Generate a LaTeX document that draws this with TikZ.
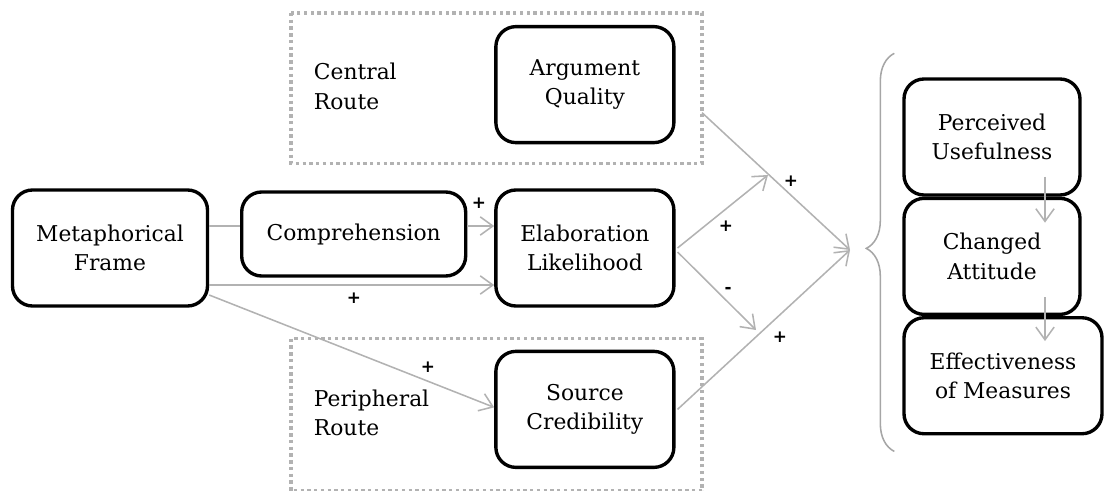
\documentclass[tikz,border=0pt]{standalone}
\usepackage{fontspec}
\setmainfont{DejaVu Serif}
\newfontfamily\signfont{DejaVu Sans}
\usepackage{tikz}
\usetikzlibrary{arrows.meta}
\usetikzlibrary{positioning}
\usetikzlibrary{calc}
\usetikzlibrary{decorations.pathreplacing}
\tikzstyle{block} = [draw, rectangle, line width = 2.4pt, rounded corners = 0.5cm, minimum height = 2.9cm, minimum width = 4.45cm, align = center, font = \fontsize{15.5}{21}\selectfont]
\tikzstyle{label} = [align = left, anchor = west, font = \fontsize{15.5}{21}\selectfont]
\tikzstyle{route} = [gray!60, line width = 2.4pt, dash pattern = on 2.4pt off 2.4pt]
\tikzstyle{link} = [gray!60, line width = 1.1pt]
\tikzstyle{arrow} = [link, -{Straight Barb[length = 9pt, width = 13pt]}]
\tikzstyle{sign} = [font = \signfont\bfseries\large]

\begin{document}
\begin{tikzpicture}
	\useasboundingbox (0,0) rectangle (27.6,-12.275);

		% Framing and processing
		\node[block, minimum width = 4.875cm] (frame) at (2.75,-6.2) {Metaphorical\\Frame};
		\node[block, right = 7.125cm of frame] (elab) {Elaboration\\Likelihood};
		\node[block, above = 1.1cm of elab] (argq) {Argument\\Quality};
		\node[block, below = 1.05cm of elab] (srccred) {Source\\Credibility};
		\node[block, minimum width = 5.6cm, minimum height = 2.1cm] (compr) at ($(frame.east)!0.5!(elab.west) + (0.05,0.35)$) {Comprehension};

		% Routes
		\node[label] (central) at (7.725,-2.1625) {Central\\Route};
		\node[label] (peripheral) at (7.725,-10.325) {Peripheral\\Route};
		\draw[route] ($(central.west |- argq.north) + (-0.45,0.3)$) rectangle ($(argq.south east) + (0.6625,-0.475)$);
		\draw[route] ($(peripheral.west |- srccred.north) + (-0.45,0.275)$) rectangle ($(srccred.south east) + (0.6625,-0.55)$);

		% Outcomes
		\node[block, minimum width = 4.4cm] (useful) at (24.8,-3.425) {Perceived\\Usefulness};
		\node[block, minimum width = 4.4cm, below = 0cm of useful] (attitude) {Changed\\Attitude};
		\node[block, minimum width = 4.95cm, below = 0cm of attitude.south west, anchor = north west] (effect) {Effectiveness\\of Measures};
		% Brace
		\draw[decorate, decoration = {brace, amplitude = 0.7cm, aspect = 0.51}, gray!70, line width = 1.1pt]
		($(effect.south west) + (-0.2,-0.4)$) -- ($(useful.north west) + (-0.2,0.6)$);

		% Meeting points
		\coordinate (join) at (21.25,-6.25);
		\coordinate (upper) at (19.2,-4.375);
		\coordinate (lower) at (18.9,-8.25);

		% Connect all nodes defined above
		\draw[link] ($(frame.east) + (0,0.55)$) -- ($(compr.west) + (0,0.2)$);
		\draw[arrow] ($(compr.east) + (0,0.2)$) -- ($(elab.west) + (0,0.55)$);
		\draw[arrow] ($(frame.east) + (0,-0.925)$) -- ($(elab.west) + (0,-0.925)$);
		\draw[arrow] ($(frame.east) + (0,-1.175)$) -- ($(srccred.west) + (0,0.05)$);
		\draw[arrow] ($(argq.east) + (0.66,-0.7)$) -- (join);
		\draw[arrow] ($(elab.east) + (0.05,0)$) -- (upper);
		\draw[arrow] ($(elab.east) + (0.05,-0.1)$) -- (lower);
		\draw[arrow] ($(srccred.east) + (0.05,0)$) -- (join);
		\draw[arrow] ($(useful.south) + (1.325,0.5)$) -- ($(attitude.north) + (1.325,-0.65)$);
		\draw[arrow] ($(attitude.south) + (1.325,0.475)$) -- ($(effect.north -| attitude.south) + (1.325,-0.625)$);

		% Signs
		\node[sign] (s1) at (11.975,-5.075) {+};
		\node[sign] (s2) at (8.85,-7.45) {+};
		\node[sign] (s3) at (10.7,-9.175) {+};
		\node[sign] (s4) at (19.775,-4.525) {+};
		\node[sign] (s5) at (18.15,-5.65) {+};
		\node[sign] (s6) at (18.2,-7.25) {-};
		\node[sign] (s7) at (19.5,-8.425) {+};

	\end{tikzpicture}
\end{document}
